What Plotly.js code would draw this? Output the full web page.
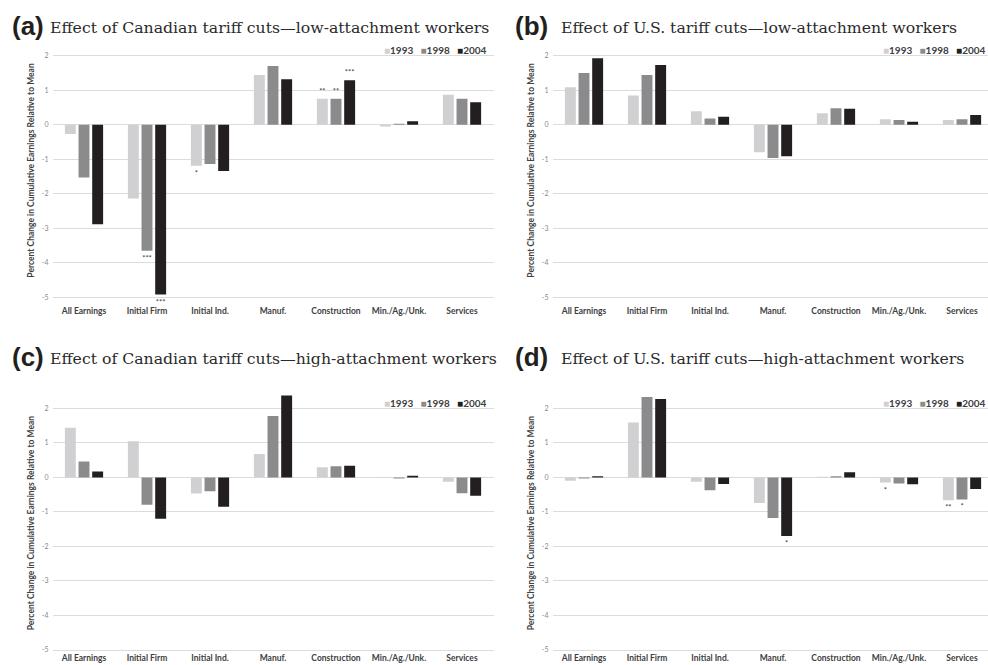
<!DOCTYPE html>
<html><head><meta charset="utf-8">
<script src="https://cdn.plot.ly/plotly-3.0.1.min.js"></script>
<style>html,body{margin:0;padding:0;overflow:hidden;background:#fff}#chart{width:994px;height:665px}</style>
</head><body><div id="chart"></div>
<script>
const categories = ['All Earnings','Initial Firm','Initial Ind.','Manuf.','Construction','Min./Ag./Unk.','Services'];
const years = ['1993','1998','2004'];
const yTickVals = [-5,-4,-3,-2,-1,0,1,2];
const yTickText = ['-5','-4','-3','-2','-1','0','1','2'];

// (a) Canadian tariff cuts, low-attachment
const a1993 = [-0.27,-2.14,-1.19,1.44,0.75,-0.05,0.87];
const a1998 = [-1.53,-3.65,-1.14,1.70,0.75,0.03,0.75];
const a2004 = [-2.88,-4.92,-1.34,1.32,1.29,0.10,0.65];
const a1993Sig = ['','','*','','**','',''];
const a1998Sig = ['','***','','','**','',''];
const a2004Sig = ['','***','','','***','',''];
// (b) U.S. tariff cuts, low-attachment
const b1993 = [1.09,0.85,0.39,-0.80,0.33,0.16,0.14];
const b1998 = [1.50,1.44,0.18,-0.96,0.48,0.14,0.16];
const b2004 = [1.93,1.73,0.23,-0.91,0.46,0.09,0.28];
const b1993Sig = ['','','','','','',''];
const b1998Sig = ['','','','','','',''];
const b2004Sig = ['','','','','','',''];
// (c) Canadian tariff cuts, high-attachment
const c1993 = [1.44,1.05,-0.47,0.68,0.29,-0.02,-0.13];
const c1998 = [0.46,-0.79,-0.40,1.78,0.32,-0.03,-0.46];
const c2004 = [0.17,-1.20,-0.85,2.37,0.34,0.05,-0.53];
const c1993Sig = ['','','','','','',''];
const c1998Sig = ['','','','','','',''];
const c2004Sig = ['','','','','','',''];
// (d) U.S. tariff cuts, high-attachment
const d1993 = [-0.10,1.59,-0.13,-0.74,0.02,-0.15,-0.66];
const d1998 = [-0.03,2.33,-0.37,-1.18,0.03,-0.18,-0.64];
const d2004 = [0.03,2.27,-0.19,-1.70,0.15,-0.20,-0.34];
const d1993Sig = ['','','','','','*','**'];
const d1998Sig = ['','','','','','','*'];
const d2004Sig = ['','','','*','','',''];

const colors = ['#d0d0d2','#8b8b8e','#231f20'];
const W = 994, H = 665;
const fx = p => p / W;
const fy = p => 1 - p / H;

const panels = [
  {lab:'(a)', title:'Effect of Canadian tariff cuts—low-attachment workers', series:[a1993,a1998,a2004], sig:[a1993Sig,a1998Sig,a2004Sig],
   xd:[52.5,493.5], yd:[40.2,300.75], labX:10, titX:48, titY:26, legX:489, legY:50, stand:4},
  {lab:'(b)', title:'Effect of U.S. tariff cuts—low-attachment workers', series:[b1993,b1998,b2004], sig:[b1993Sig,b1998Sig,b2004Sig],
   xd:[552.5,993.5], yd:[40.2,300.75], labX:513, titX:559, titY:26, legX:988, legY:50, stand:4},
  {lab:'(c)', title:'Effect of Canadian tariff cuts—high-attachment workers', series:[c1993,c1998,c2004], sig:[c1993Sig,c1998Sig,c2004Sig],
   xd:[52.5,493.5], yd:[392.8,653.45], labX:10, titX:48, titY:357, legX:489, legY:403, stand:-2},
  {lab:'(d)', title:'Effect of U.S. tariff cuts—high-attachment workers', series:[d1993,d1998,d2004], sig:[d1993Sig,d1998Sig,d2004Sig],
   xd:[552.5,993.5], yd:[392.8,653.45], labX:513, titX:559, titY:357, legX:988, legY:403, stand:-2}
];

const traces = [];
const layout = {
  width: W, height: H, margin:{l:0,r:0,t:0,b:0},
  paper_bgcolor:'#fff', plot_bgcolor:'#fff',
  barmode:'group', bargap:0.35, bargroupgap:0.2,
  showlegend:false, annotations:[],
  font:{family:'Lato, sans-serif', color:'#404040'}
};

panels.forEach((p, i) => {
  const n = i === 0 ? '' : String(i + 1);
  const xa = 'x' + n, ya = 'y' + n;
  p.series.forEach((vals, k) => {
    traces.push({
      type:'bar', x:categories, y:vals, name:years[k], xaxis:xa, yaxis:ya,
      marker:{color:colors[k], line:{width:0}},
      text:p.sig[k], textposition:'outside', constraintext:'none', cliponaxis:false,
      textfont:{size:7.5, color:'#404040', family:'Lato, sans-serif'},
      hoverinfo:'skip'
    });
  });
  layout['xaxis' + n] = {
    domain:[fx(p.xd[0]), fx(p.xd[1])], anchor:ya, type:'category',
    showgrid:false, zeroline:false, showline:false, ticks:'', ticklabelstandoff:p.stand,
    tickfont:{family:'Lato, sans-serif', size:8.5, color:'#404040', weight:'bold'},
    fixedrange:true
  };
  layout['yaxis' + n] = {
    domain:[fy(p.yd[1]), fy(p.yd[0])], anchor:xa, range:[-5.1, 2.45],
    tickvals:yTickVals, ticktext:yTickText,
    showgrid:true, gridcolor:'#dcdcdc', gridwidth:1, zeroline:false, showline:false, ticks:'', ticklabelstandoff:3,
    tickfont:{family:'Lato, sans-serif', size:7, color:'#8a8a8a'},
    title:{text:'Percent Change in Cumulative Earnings Relative to Mean', standoff:5,
      font:{family:'Lato, sans-serif', size:8.5, color:'#404040', weight:'bold'}},
    fixedrange:true
  };
  layout.annotations.push({
    xref:'paper', yref:'paper', x:fx(p.labX), y:fy(p.titY), xanchor:'left', yanchor:'middle',
    text:'<b>' + p.lab + '</b>', showarrow:false,
    font:{family:'Liberation Sans, Arial, sans-serif', size:26, color:'#231f20'}
  });
  layout.annotations.push({
    xref:'paper', yref:'paper', x:fx(p.titX), y:fy(p.titY + 1), xanchor:'left', yanchor:'middle',
    text:p.title, showarrow:false,
    font:{family:'DejaVu Serif, serif', size:15.7, color:'#2a2a2a'}
  });
  const legText = years.map((y, k) => '<span style="color:' + colors[k] + '">■</span>' + y).join('&nbsp;&nbsp;&nbsp;');
  layout.annotations.push({
    xref:'paper', yref:'paper', x:fx(p.legX), y:fy(p.legY), xanchor:'right', yanchor:'middle',
    text:legText, showarrow:false,
    font:{family:'Lato, sans-serif', size:10, color:'#404040', weight:'bold'}
  });
});

Plotly.newPlot('chart', traces, layout, {staticPlot:true, displayModeBar:false});
</script></body></html>
